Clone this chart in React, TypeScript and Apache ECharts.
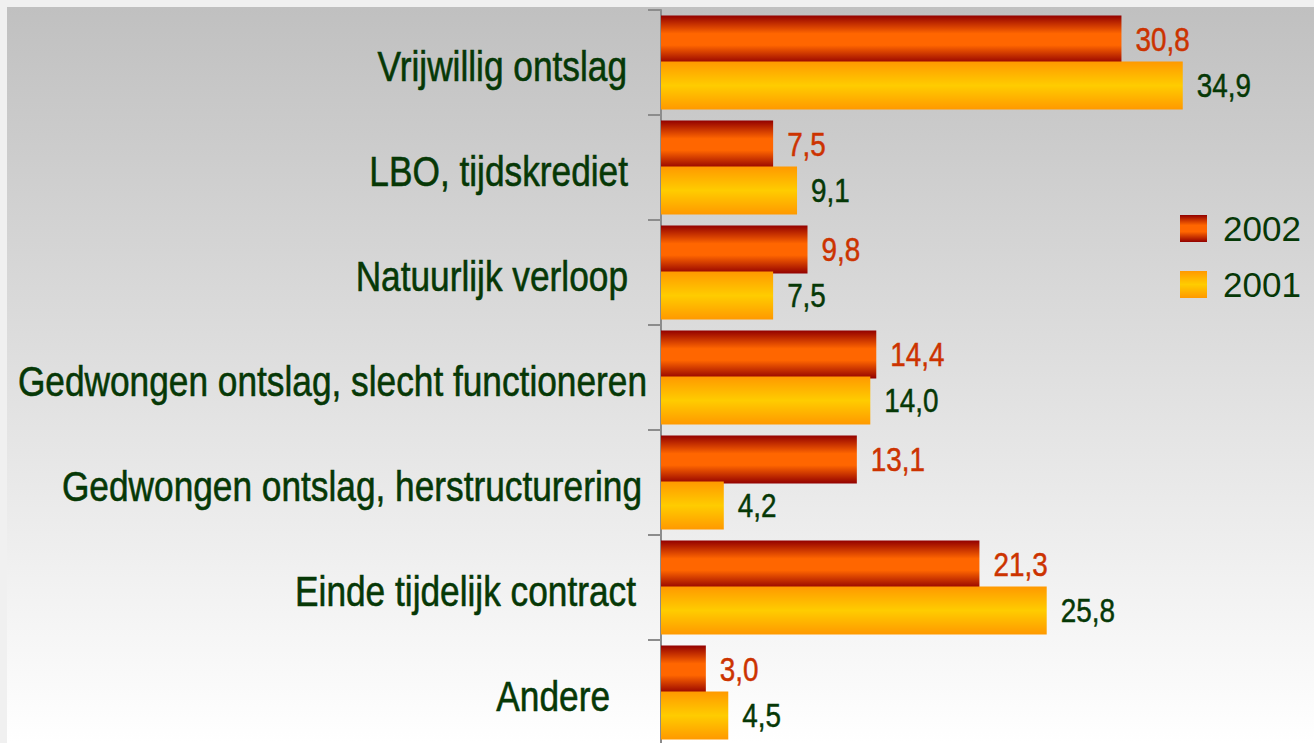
import React, { useEffect, useRef } from "react";
import * as echarts from "echarts";

const categories = [
  "Vrijwillig ontslag",
  "LBO, tijdskrediet",
  "Natuurlijk verloop",
  "Gedwongen ontslag, slecht functioneren",
  "Gedwongen ontslag, herstructurering",
  "Einde tijdelijk contract",
  "Andere",
];
const values2002 = [30.8, 7.5, 9.8, 14.4, 13.1, 21.3, 3.0];
const values2001 = [34.9, 9.1, 7.5, 14.0, 4.2, 25.8, 4.5];
const seriesNames = ["2002", "2001"];
// style only: gap between the end of each category label and the axis line
const labelGap = [34, 33, 33, 14, 19, 25, 51];

const FONT = "'Liberation Sans', Arial, sans-serif";
const NARROW = 0.82;
const GREEN = "#063806";
const RED = "#cc3300";

const fmt = (v: number) => v.toFixed(1).replace(".", ",");

export default function App() {
  const ref = useRef<HTMLDivElement>(null);
  useEffect(() => {
    document.body.style.margin = "7px 0 0 7px";
    document.body.style.background = "#f0f0f0";
    document.body.style.overflow = "hidden";
    if (!ref.current) return;
    const chart = echarts.init(ref.current, null, { renderer: "svg" });
    const grad2002 = new echarts.graphic.LinearGradient(0, 0, 0, 1, [
      { offset: 0, color: "#920000" },
      { offset: 0.38, color: "#ff6600" },
      { offset: 0.62, color: "#ff6600" },
      { offset: 1, color: "#920000" },
    ]);
    const grad2001 = new echarts.graphic.LinearGradient(0, 0, 0, 1, [
      { offset: 0, color: "#ff9900" },
      { offset: 0.5, color: "#ffcc00" },
      { offset: 1, color: "#ff9900" },
    ]);
    chart.setOption({
      animation: false,
      backgroundColor: new echarts.graphic.LinearGradient(0, 0, 0, 1, [
        { offset: 0, color: "#c0c0c0" },
        { offset: 1, color: "#ffffff" },
      ]),
      grid: { left: 654, top: 3, width: 598, height: 735, containLabel: false, outerBoundsMode: "none" },
      legend: {
        orient: "vertical",
        left: 1168,
        top: 199,
        itemWidth: 27,
        itemHeight: 27,
        itemGap: 21,
        icon: "rect",
        data: seriesNames,
        textStyle: { fontFamily: FONT, fontSize: 35, color: GREEN, padding: [0, 0, 0, 11] },
      },
      xAxis: { type: "value", min: 0, max: 40, show: false },
      yAxis: {
        type: "category",
        inverse: true,
        data: categories,
        axisLine: { show: true, lineStyle: { color: "#8c8c8c", width: 2 } },
        axisTick: { show: true, length: 13, lineStyle: { color: "#8c8c8c", width: 2 } },
        axisLabel: { show: false },
      },
      series: [
        {
          name: seriesNames[0],
          type: "bar",
          data: values2002,
          barWidth: 48,
          barGap: "-4%",
          barCategoryGap: "10%",
          itemStyle: { color: grad2002 },
        },
        {
          name: seriesNames[1],
          type: "bar",
          data: values2001,
          barWidth: 48,
          barGap: "-4%",
          barCategoryGap: "10%",
          itemStyle: { color: grad2001 },
        },
      ],
    });

    const axisX = chart.convertToPixel({ xAxisIndex: 0 }, 0) as number;
    const graphics: any[] = [];
    categories.forEach((c, i) => {
      const y = chart.convertToPixel({ yAxisIndex: 0 }, c) as number;
      graphics.push({
        type: "text",
        x: axisX - labelGap[i],
        y: y + 3,
        scaleX: NARROW,
        style: {
          text: c,
          fill: GREEN,
          stroke: GREEN,
          lineWidth: 0.6,
          font: `43px ${FONT}`,
          align: "right",
          verticalAlign: "middle",
        },
      });
    });
    const model: any = (chart as any).getModel();
    [values2002, values2001].forEach((vals, s) => {
      const data = model.getSeriesByIndex(s).getData();
      vals.forEach((v, i) => {
        const lay = data.getItemLayout(i);
        if (!lay) return;
        const xEnd = lay.x + lay.width;
        const yc = lay.y + lay.height / 2;
        const col = s === 0 ? RED : GREEN;
        graphics.push({
          type: "text",
          x: xEnd + 14,
          y: yc,
          scaleX: NARROW,
          style: {
            text: fmt(v),
            fill: col,
            stroke: col,
            lineWidth: 0.5,
            font: `34px ${FONT}`,
            align: "left",
            verticalAlign: "middle",
          },
        });
      });
    });
    chart.setOption({ graphic: graphics });
    return () => chart.dispose();
  }, []);
  return <div ref={ref} style={{ width: 1307, height: 736 }} />;
}
